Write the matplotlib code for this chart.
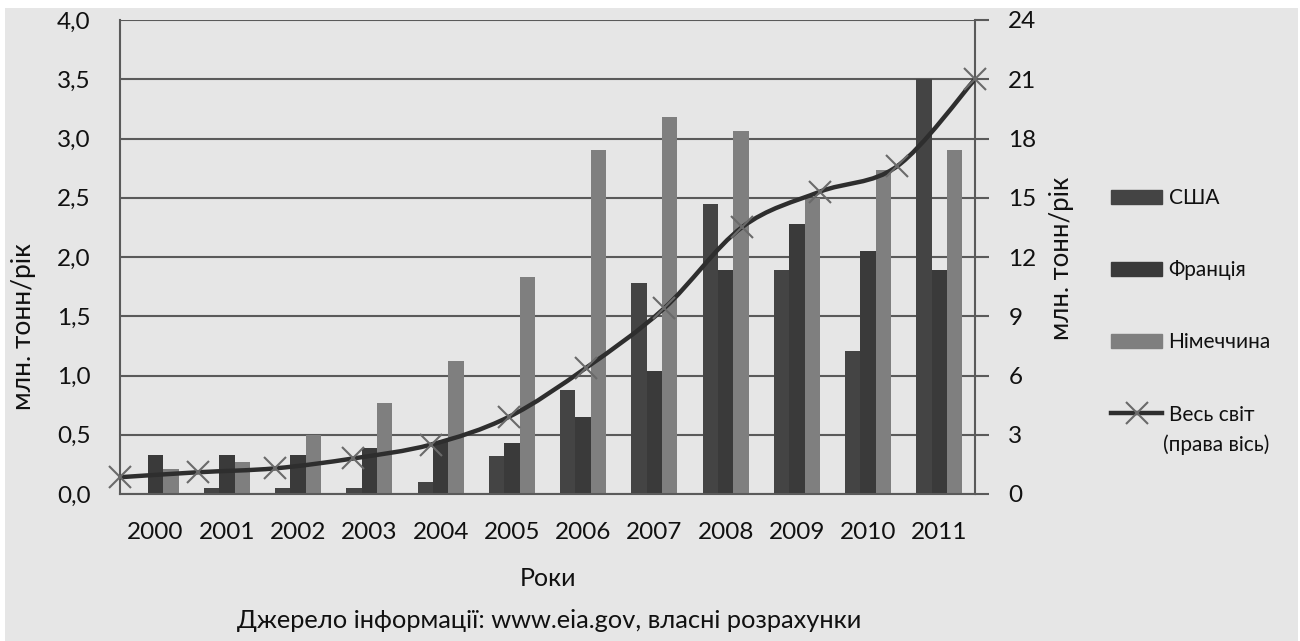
import numpy as np
import matplotlib.pyplot as plt
from matplotlib.path import Path
from matplotlib.patches import PathPatch, Rectangle, Patch
from matplotlib.lines import Line2D

plt.rcParams['font.family'] = ['Lato', 'DejaVu Sans']

# Data
years = ['2000', '2001', '2002', '2003', '2004', '2005',
         '2006', '2007', '2008', '2009', '2010', '2011']
usa = [0.0, 0.05, 0.05, 0.05, 0.1, 0.32, 0.88, 1.78, 2.45, 1.89, 1.21, 3.5]
france = [0.33, 0.33, 0.33, 0.39, 0.44, 0.43, 0.65, 1.04, 1.89, 2.28, 2.05, 1.89]
germany = [0.21, 0.27, 0.5, 0.77, 1.12, 1.83, 2.9, 3.18, 3.06, 2.5, 2.73, 2.9]
world = [0.85, 1.1, 1.3, 1.8, 2.5, 3.9, 6.4, 9.4, 13.5, 15.3, 16.6, 21.0]

left_ticks = np.arange(0, 4.01, 0.5)
right_ticks = np.arange(0, 24.1, 3)

c_usa = '#444444'
c_fra = '#3a3a3a'
c_ger = '#7f7f7f'
c_line = '#2e2e2e'
c_mark = '#6a6a6a'
c_grid = '#5a5a5a'
c_text = '#111111'

fig = plt.figure(figsize=(13, 6.41), dpi=100)
fig.patches.append(Rectangle((5 / 1300, 0), 1293 / 1300, 633 / 641,
                             transform=fig.transFigure, facecolor='#e6e6e6',
                             edgecolor='none', zorder=-10))

pos = [120 / 1300, 1 - 494 / 641, 855 / 1300, 474 / 641]
ax = fig.add_axes(pos)
ax.set_facecolor('none')

# Bars (left axis)
x = np.arange(len(years))
w = 0.215
ax.bar(x - w, usa, w, color=c_usa, zorder=2)
ax.bar(x, france, w, color=c_fra, zorder=2)
ax.bar(x + w, germany, w, color=c_ger, zorder=2)

ax.set_xlim(-0.5, len(years) - 0.5)
ax.set_ylim(0, 4)
ax.set_xticks(x)
ax.set_xticklabels(years)
ax.set_yticks(left_ticks)
ax.set_yticklabels([f'{v:.1f}'.replace('.', ',') for v in left_ticks])
ax.grid(axis='y', color=c_grid, lw=1.5)
ax.set_axisbelow(True)
ax.tick_params(axis='y', length=0, pad=21, labelsize=17.5, labelcolor=c_text)
ax.tick_params(axis='x', length=0, pad=20, labelsize=17.5, labelcolor=c_text)
ax.spines['top'].set_visible(False)
for s in ['left', 'right', 'bottom']:
    ax.spines[s].set_color(c_grid)
    ax.spines[s].set_linewidth(1.5)

# Right axis for the world line
axr = fig.add_axes(pos, frameon=False)
axr.set_xlim(0, len(world) - 1)
axr.set_ylim(0, 24)
axr.xaxis.set_visible(False)
axr.yaxis.tick_right()
axr.set_yticks(right_ticks)
axr.set_yticklabels([f'{int(v)}' for v in right_ticks])
axr.tick_params(axis='y', direction='out', length=10, width=1.5, color=c_grid,
                pad=14, labelsize=17.5, labelcolor=c_text)

# smoothed line (Excel-like bezier)
px = np.arange(len(world), dtype=float)
py = np.array(world, dtype=float)
pts = np.column_stack([px, py])
n = len(pts)
verts = [tuple(pts[0])]
codes = [Path.MOVETO]
for i in range(n - 1):
    p0 = pts[max(i - 1, 0)]
    p1 = pts[i]
    p2 = pts[i + 1]
    p3 = pts[min(i + 2, n - 1)]
    c1 = p1 + (p2 - p0) / 6
    c2 = p2 - (p3 - p1) / 6
    verts += [tuple(c1), tuple(c2), tuple(p2)]
    codes += [Path.CURVE4] * 3
axr.add_patch(PathPatch(Path(verts, codes), facecolor='none', edgecolor=c_line,
                        lw=3.2, capstyle='round', zorder=3))
axr.plot(px, py, ls='none', marker='x', ms=16, mew=1.5, color=c_mark,
         zorder=4, clip_on=False)

# Legend
handles = [Patch(color=c_usa), Patch(color=c_fra), Patch(color=c_ger),
           Line2D([], [], color=c_line, lw=3.2, marker='x', ms=16, mew=1.5,
                  mec=c_mark)]
labels = ['США', 'Франція', 'Німеччина', 'Весь світ']
leg = fig.legend(handles, labels, loc='upper left',
                 bbox_to_anchor=(1103 / 1300, 1 - 180 / 641), frameon=False,
                 fontsize=15, handlelength=2.45, handleheight=0.65,
                 labelspacing=2.5, handletextpad=0.3, borderaxespad=0)
for t in leg.get_texts():
    t.set_color(c_text)
fig.text(1163 / 1300, 1 - 445 / 641, '(права вісь)', fontsize=15,
         ha='left', va='center', color=c_text)

# Axis titles and source
fig.text(24 / 1300, 1 - 327 / 641, 'млн. тонн/рік', rotation=90, fontsize=19,
         ha='center', va='center', color=c_text)
fig.text(1062 / 1300, 1 - 258 / 641, 'млн. тонн/рік', rotation=90, fontsize=18.5,
         ha='center', va='center', color=c_text)
fig.text(548 / 1300, 1 - 578 / 641, 'Роки', fontsize=18,
         ha='center', va='center', color=c_text)
fig.text(549 / 1300, 1 - 620 / 641,
         'Джерело інформації: www.eia.gov, власні розрахунки', fontsize=18.3,
         ha='center', va='center', color=c_text)

fig.savefig('out.png', dpi=100)
